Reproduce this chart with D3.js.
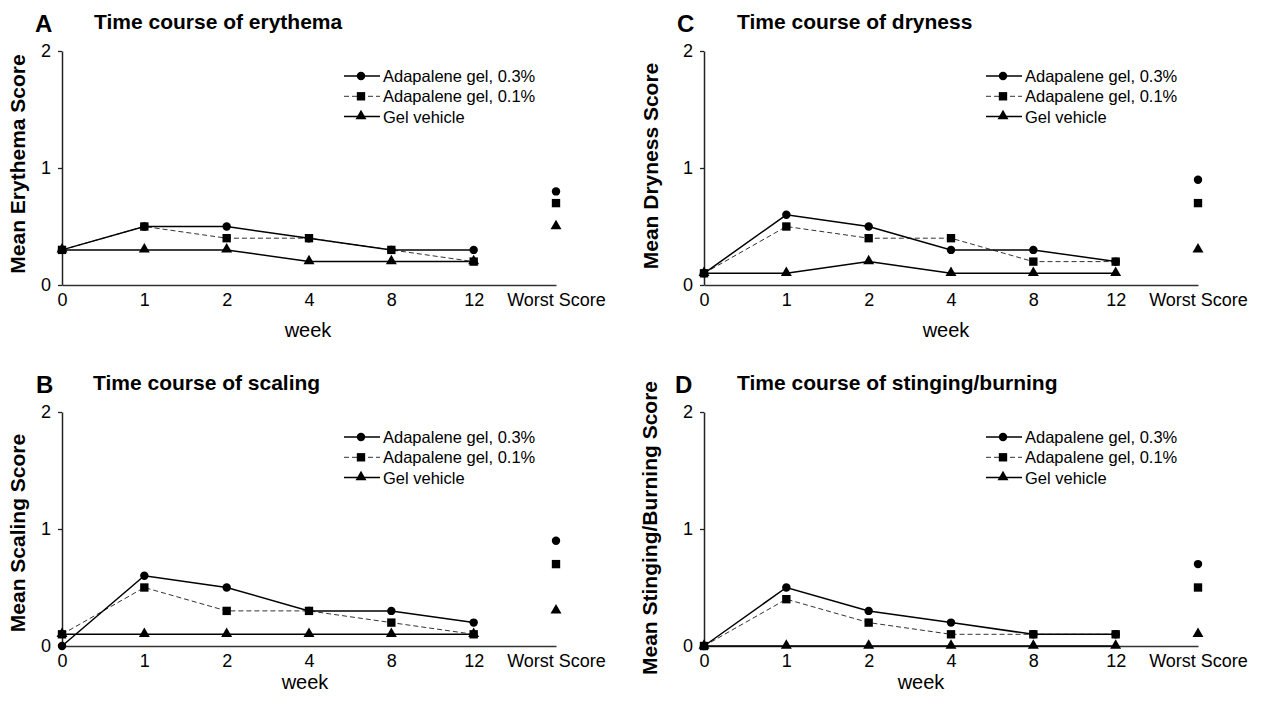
<!DOCTYPE html>
<html><head><meta charset="utf-8">
<script src="https://cdn.jsdelivr.net/npm/d3@7"></script>
<style>
body{margin:0;background:#fff;}
svg{display:block;font-family:"Liberation Sans",Arial,sans-serif;}
</style></head>
<body><svg id="chart" width="1266" height="701"></svg>
<script>
// ---- data ----
const categories = ["0","1","2","4","8","12","Worst Score"];
const weeks = ["0","1","2","4","8","12"];
const yTicks = [0,1,2];
const seriesNames = ["Adapalene gel, 0.3%","Adapalene gel, 0.1%","Gel vehicle"];

const erythema03 = [0.3,0.5,0.5,0.4,0.3,0.3];
const erythema01 = [0.3,0.5,0.4,0.4,0.3,0.2];
const erythemaVeh = [0.3,0.3,0.3,0.2,0.2,0.2];
const erythemaWorst = [0.8,0.7,0.5];

const dryness03 = [0.1,0.6,0.5,0.3,0.3,0.2];
const dryness01 = [0.1,0.5,0.4,0.4,0.2,0.2];
const drynessVeh = [0.1,0.1,0.2,0.1,0.1,0.1];
const drynessWorst = [0.9,0.7,0.3];

const scaling03 = [0,0.6,0.5,0.3,0.3,0.2];
const scaling01 = [0.1,0.5,0.3,0.3,0.2,0.1];
const scalingVeh = [0.1,0.1,0.1,0.1,0.1,0.1];
const scalingWorst = [0.9,0.7,0.3];

const stinging03 = [0,0.5,0.3,0.2,0.1,0.1];
const stinging01 = [0,0.4,0.2,0.1,0.1,0.1];
const stingingVeh = [0,0,0,0,0,0];
const stingingWorst = [0.7,0.5,0.1];

const panelLetters = ["A","C","B","D"];
const panelTitles = ["Time course of erythema","Time course of dryness","Time course of scaling","Time course of stinging/burning"];
const yLabels = ["Mean Erythema Score","Mean Dryness Score","Mean Scaling Score","Mean Stinging/Burning Score"];
const xLabel = "week";

const panelData = [
  [erythema03, erythema01, erythemaVeh, erythemaWorst],
  [dryness03, dryness01, drynessVeh, drynessWorst],
  [scaling03, scaling01, scalingVeh, scalingWorst],
  [stinging03, stinging01, stingingVeh, stingingWorst]
];

// ---- layout ----
const layout = [
  {x0:62, y0:285, yl:[25,164], letterX:35, titleX:94, weekX:308, weekDy:52},
  {x0:704, y0:285, yl:[658,166], letterX:677, titleX:737, weekX:946, weekDy:52},
  {x0:62, y0:646, yl:[25,533], letterX:36, titleX:93, weekX:305, weekDy:43},
  {x0:704, y0:646, yl:[657,528], letterX:675, titleX:737, weekX:921, weekDy:43}
];
const PW = 494, PH = 234;
const styles = [
  {dash:null, width:1.5, color:"#000", marker:"circle"},
  {dash:"5,3", width:1, color:"#333", marker:"square"},
  {dash:null, width:1.5, color:"#000", marker:"triangle"}
];
const symbols = {circle:d3.symbolCircle, square:d3.symbolSquare, triangle:d3.symbolTriangle};
const symSize = {circle:56, square:70, triangle:52};

const svg = d3.select("#chart");

function drawMarker(g, type, x, y){
  g.append("path")
    .attr("d", d3.symbol().type(symbols[type]).size(symSize[type])())
    .attr("transform", `translate(${x},${y + (type==="triangle"?-0.5:0)})`)
    .attr("fill","#000");
}

panelData.forEach((pd, i) => {
  const L = layout[i];
  const x = d3.scalePoint().domain(categories).range([L.x0, L.x0+PW]).padding(0);
  const y = d3.scaleLinear().domain([0,2]).range([L.y0, L.y0-PH]);
  const g = svg.append("g");

  // letter + title
  g.append("text").attr("x",L.letterX).attr("y",L.y0-PH-19.5)
    .attr("font-size",24).attr("font-weight","bold").text(panelLetters[i]);
  g.append("text").attr("x",L.titleX).attr("y",L.y0-PH-22.5)
    .attr("font-size",21).attr("font-weight","bold").text(panelTitles[i]);

  // axes
  const xAxis = g.append("g").attr("transform",`translate(0,${L.y0})`)
    .call(d3.axisBottom(x).tickSize(0).tickPadding(8));
  xAxis.select(".domain").attr("stroke","#333").attr("stroke-width",1.6);
  xAxis.selectAll("text").attr("font-size",18).attr("fill","#000")
    .attr("font-family","Liberation Sans, Arial, sans-serif");

  const yAxis = g.append("g").attr("transform",`translate(${L.x0},0)`)
    .call(d3.axisLeft(y).tickValues(yTicks).tickFormat(d3.format("d")).tickSize(4).tickSizeOuter(0).tickPadding(7));
  yAxis.select(".domain").attr("stroke","#222").attr("stroke-width",1.5);
  yAxis.selectAll(".tick line").attr("stroke","#222").attr("stroke-width",1.3);
  yAxis.selectAll("text").attr("font-size",18).attr("fill","#000")
    .attr("font-family","Liberation Sans, Arial, sans-serif");

  // y label
  g.append("text").attr("transform",`translate(${L.yl[0]},${L.yl[1]}) rotate(-90)`)
    .attr("text-anchor","middle").attr("font-size",21).attr("font-weight","bold")
    .text(yLabels[i]);
  // x label
  g.append("text").attr("x",L.weekX).attr("y",L.y0+L.weekDy)
    .attr("text-anchor","middle").attr("font-size",20).text(xLabel);

  // series lines (vehicle first so others on top)
  [2,1,0].forEach(s => {
    const st = styles[s];
    const vals = pd[s].map((v,k)=>({c:weeks[k], v}));
    g.append("path").datum(vals)
      .attr("fill","none").attr("stroke",st.color).attr("stroke-width",st.width)
      .attr("stroke-dasharray",st.dash)
      .attr("d", d3.line().x(d=>x(d.c)).y(d=>y(d.v)));
    vals.forEach(d => drawMarker(g, st.marker, x(d.c), y(d.v)));
    drawMarker(g, st.marker, x("Worst Score"), y(pd[3][s]));
  });

  // legend
  const lx = L.x0 + 282, ly = L.y0 - PH;
  seriesNames.forEach((name, s) => {
    const st = styles[s];
    const ry = ly + 25 + s*20.3;
    g.append("line").attr("x1",lx).attr("x2",lx+36).attr("y1",ry).attr("y2",ry)
      .attr("stroke",st.color).attr("stroke-width",st.width).attr("stroke-dasharray",st.dash);
    drawMarker(g, st.marker, lx+17, ry);
    g.append("text").attr("x",lx+39).attr("y",ry+6).attr("font-size",16.5).text(name);
  });
});
</script></body></html>
